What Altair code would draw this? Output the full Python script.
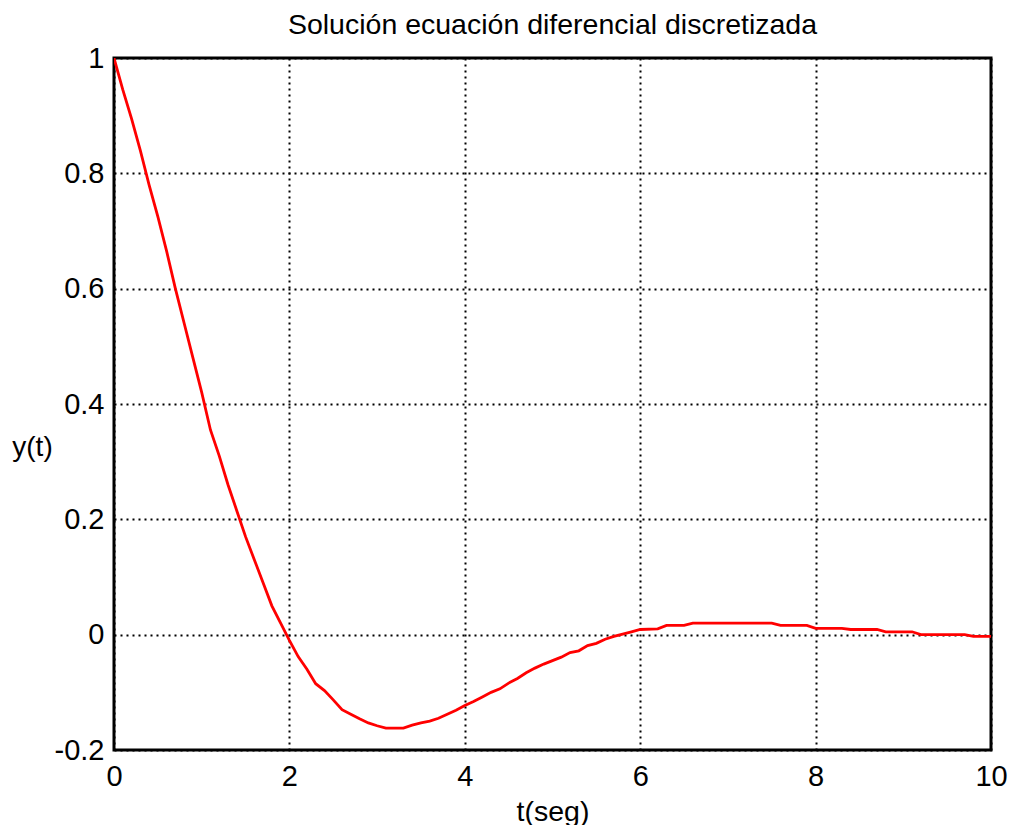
import altair as alt
import pandas as pd

t_vals = [0, 0.1, 0.2, 0.3, 0.4, 0.5, 0.6, 0.7, 0.8, 0.9, 1.0, 1.1, 1.2, 1.3, 1.4,
          1.5, 1.6, 1.7, 1.8, 1.9, 2.0, 2.1, 2.2, 2.3, 2.4, 2.5, 2.6, 2.7, 2.8, 2.9,
          3.0, 3.1, 3.2, 3.3, 3.4, 3.5, 3.6, 3.7, 3.8, 3.9, 4.0, 4.1, 4.2, 4.3, 4.4,
          4.5, 4.6, 4.7, 4.8, 4.9, 5.0, 5.1, 5.2, 5.3, 5.4, 5.5, 5.6, 5.7, 5.8, 5.9,
          6.0, 6.2, 6.3, 6.5, 6.6, 7.5, 7.6, 7.9, 8.0, 8.3, 8.4, 8.7, 8.8, 9.1, 9.2,
          9.7, 9.8, 10.0]
y_vals = [1.0, 0.945, 0.895, 0.84, 0.78, 0.725, 0.665, 0.60, 0.54, 0.48, 0.42, 0.355,
          0.31, 0.26, 0.215, 0.17, 0.13, 0.09, 0.05, 0.02, -0.01, -0.038, -0.06, -0.085,
          -0.097, -0.113, -0.13, -0.138, -0.146, -0.153, -0.158, -0.162, -0.162, -0.162,
          -0.157, -0.153, -0.150, -0.145, -0.138, -0.131, -0.123, -0.116, -0.108, -0.100,
          -0.094, -0.084, -0.076, -0.066, -0.058, -0.051, -0.045, -0.039, -0.031, -0.028,
          -0.019, -0.015, -0.008, -0.003, 0.001, 0.005, 0.009, 0.010, 0.016, 0.016, 0.020,
          0.020, 0.016, 0.016, 0.011, 0.011, 0.009, 0.009, 0.005, 0.005, 0.0, 0.0, -0.003,
          -0.003]
x_ticks = [0, 2, 4, 6, 8, 10]
y_ticks = [-0.2, 0, 0.2, 0.4, 0.6, 0.8, 1.0]

df = pd.DataFrame({"t": t_vals, "y": y_vals})

FONT = "Liberation Sans"
lbl = "datum.value == 0 ? '0' : (datum.value < 0 ? '-' + format(-datum.value, '~g') : format(datum.value, '~g'))"

chart = alt.Chart(df).mark_line(color="#ff0000", strokeWidth=2.8, clip=True).encode(
    x=alt.X("t:Q", scale=alt.Scale(domain=[0, 10], nice=False),
            axis=alt.Axis(values=x_ticks, title="t(seg)", labelExpr=lbl,
                          labelPadding=12, labelFlush=False,
                          titleY=70, titleBaseline="alphabetic", titleFontSize=28.5)),
    y=alt.Y("y:Q", scale=alt.Scale(domain=[-0.2, 1], nice=False, zero=False),
            axis=alt.Axis(values=y_ticks, title="y(t)", labelExpr=lbl, labelPadding=10,
                          labelFlush=False,
                          titleAngle=0, titleX=-82, titleY=389, titleAlign="center",
                          titleBaseline="middle", titleFontSize=28)),
).properties(
    width=877, height=692,
    title=alt.Title("Solución ecuación diferencial discretizada", fontSize=28.5,
                    font=FONT, fontWeight="normal", color="black", offset=5, anchor="middle"),
    autosize="none",
    padding={"left": 106, "top": 50, "right": 17, "bottom": 75},
).configure_view(
    stroke="black", strokeWidth=3
).configure_axis(
    labelFont=FONT, titleFont=FONT, labelFontSize=29, titleFontSize=28,
    labelColor="black", titleColor="black", titleFontWeight="normal",
    grid=True, gridColor="black", gridDash=[2, 4], gridWidth=2, gridOpacity=1,
    domain=False, ticks=False,
)

chart.save("out.html", embed_options={"renderer": "svg", "actions": False})
